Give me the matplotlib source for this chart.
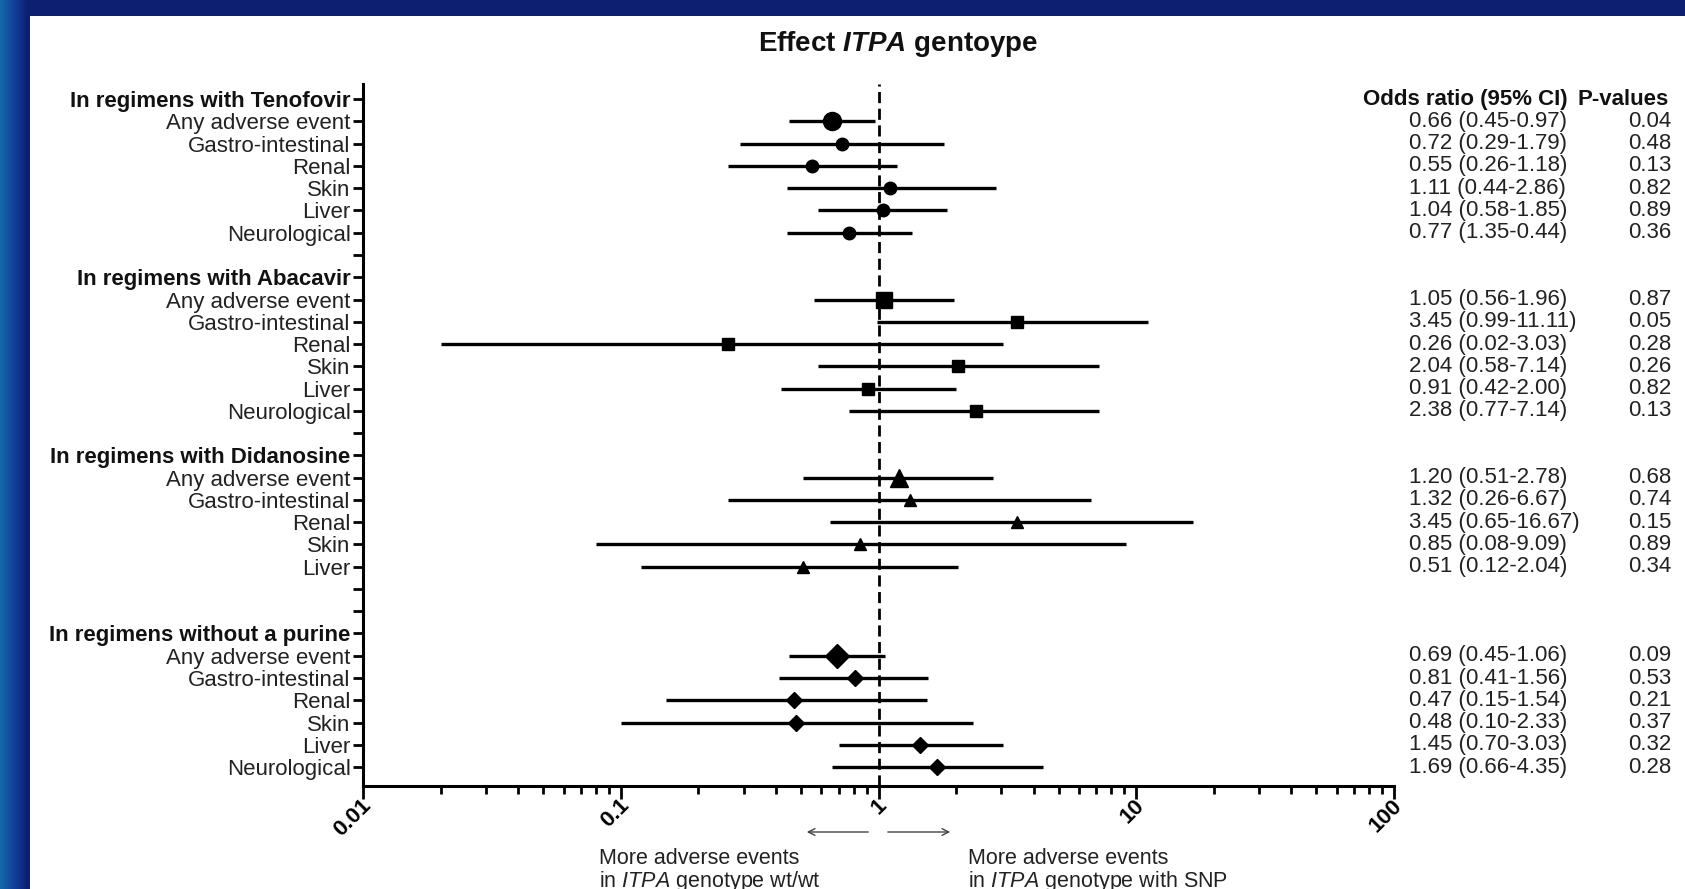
import numpy as np
import matplotlib.pyplot as plt
import matplotlib.transforms as mtransforms
from matplotlib.patches import Rectangle, FancyArrowPatch
from matplotlib.colors import LinearSegmentedColormap

plt.rcParams['font.family'] = ['Liberation Sans', 'DejaVu Sans']
plt.rcParams['mathtext.fontset'] = 'custom'
plt.rcParams['mathtext.rm'] = 'Liberation Sans'
plt.rcParams['mathtext.it'] = 'Liberation Sans:italic'
plt.rcParams['mathtext.bf'] = 'Liberation Sans:bold'
plt.rcParams['mathtext.bfit'] = 'Liberation Sans:bold:italic'

groups = ["In regimens with Tenofovir", "In regimens with Abacavir",
          "In regimens with Didanosine", "In regimens without a purine"]
outcomes = ["Any adverse event", "Gastro-intestinal", "Renal", "Skin", "Liver", "Neurological"]
markers = ["o", "s", "^", "D"]

or_teno = [0.66, 0.72, 0.55, 1.11, 1.04, 0.77]
lo_teno = [0.45, 0.29, 0.26, 0.44, 0.58, 1.35]
hi_teno = [0.97, 1.79, 1.18, 2.86, 1.85, 0.44]
p_teno = ["0.04", "0.48", "0.13", "0.82", "0.89", "0.36"]

or_aba = [1.05, 3.45, 0.26, 2.04, 0.91, 2.38]
lo_aba = [0.56, 0.99, 0.02, 0.58, 0.42, 0.77]
hi_aba = [1.96, 11.11, 3.03, 7.14, 2.00, 7.14]
p_aba = ["0.87", "0.05", "0.28", "0.26", "0.82", "0.13"]

# no neurological row for didanosine
or_ddi = [1.20, 1.32, 3.45, 0.85, 0.51, None]
lo_ddi = [0.51, 0.26, 0.65, 0.08, 0.12, None]
hi_ddi = [2.78, 6.67, 16.67, 9.09, 2.04, None]
p_ddi = ["0.68", "0.74", "0.15", "0.89", "0.34", None]

or_nop = [0.69, 0.81, 0.47, 0.48, 1.45, 1.69]
lo_nop = [0.45, 0.41, 0.15, 0.10, 0.70, 0.66]
hi_nop = [1.06, 1.56, 1.54, 2.33, 3.03, 4.35]
p_nop = ["0.09", "0.53", "0.21", "0.37", "0.32", "0.28"]

all_or = [or_teno, or_aba, or_ddi, or_nop]
all_lo = [lo_teno, lo_aba, lo_ddi, lo_nop]
all_hi = [hi_teno, hi_aba, hi_ddi, hi_nop]
all_p = [p_teno, p_aba, p_ddi, p_nop]

W, H = 1685, 889
fig = plt.figure(figsize=(W / 100, H / 100), dpi=100)
fig.patch.set_facecolor('#0c1f70')

# background: left gradient band + white panel
bg = fig.add_axes([0, 0, 1, 1], zorder=-5)
bg.axis('off')
cm = LinearSegmentedColormap.from_list('band', ['#1868ac', '#12409a', '#0c1f70'])
bg.imshow(np.linspace(0, 1, 60).reshape(1, -1), aspect='auto', cmap=cm, extent=[0, 28, H, 0])
bg.add_patch(Rectangle((30, 16), W - 30, H - 16, facecolor='white', edgecolor='none'))
bg.set_xlim(0, W)
bg.set_ylim(H, 0)

ax = fig.add_axes([363 / W, (H - 786) / H, (1394 - 363) / W, (786 - 84) / H], zorder=2)
ax.set_facecolor('none')

ticks_y = []
labels_y = []
row = 0
for g in range(4):
    ticks_y.append(row)
    labels_y.append(groups[g])
    row += 1
    for k in range(6):
        ticks_y.append(row)
        val = all_or[g][k]
        if val is None:
            labels_y.append("")
        else:
            labels_y.append(outcomes[k])
            lo, hi = all_lo[g][k], all_hi[g][k]
            ax.plot([min(lo, hi), max(lo, hi)], [row, row], color='black', lw=2.4,
                    solid_capstyle='butt', zorder=3)
            if markers[g] == 'D':
                ms = 12 if k == 0 else 8
            elif markers[g] == 's':
                ms = 12 if k == 0 else 9
            else:
                ms = 13 if k == 0 else 9
            ax.plot(val, row, marker=markers[g], ms=ms, color='black', zorder=4, ls='none')
        row += 1
    if g < 3:
        ticks_y.append(row)
        labels_y.append("")
        row += 1

ax.set_xscale('log')
ax.set_xlim(0.01, 100)
ax.set_ylim(30.85, -0.68)

ax.set_yticks(ticks_y)
ax.set_yticklabels(labels_y)
for lab in ax.get_yticklabels():
    if lab.get_text() in groups:
        lab.set_fontweight('bold')
        lab.set_color('#111111')
    else:
        lab.set_color('#222222')
ax.tick_params(axis='y', length=7, width=2, labelsize=16, pad=2, direction='out')

ax.set_xticks([0.01, 0.1, 1, 10, 100])
ax.set_xticklabels(["0.01", "0.1", "1", "10", "100"], rotation=45, ha='right', va='center',
                   rotation_mode='anchor', fontweight='bold', fontsize=16)
ax.tick_params(axis='x', which='major', length=9, width=2, pad=3)
ax.tick_params(axis='x', which='minor', length=6, width=2)
shift = mtransforms.ScaledTranslation(5 / 100, 0, fig.dpi_scale_trans)
for lab in ax.get_xticklabels():
    lab.set_transform(lab.get_transform() + shift)

for s in ['top', 'right']:
    ax.spines[s].set_visible(False)
for s in ['left', 'bottom']:
    ax.spines[s].set_linewidth(2.2)

ax.axvline(1, color='black', lw=2, ls=(0, (4, 2)), zorder=2)

# table on the right, placed by row in data y coordinates
tr = ax.get_yaxis_transform()


def fx(px):
    return (px - 363) / (1394 - 363)


ax.text(fx(1363), 0, "Odds ratio (95% CI)", transform=tr, fontsize=16, fontweight='bold',
        va='center', ha='left', clip_on=False, color='#111111')
ax.text(fx(1577), 0, "P-values", transform=tr, fontsize=16, fontweight='bold',
        va='center', ha='left', clip_on=False, color='#111111')
row = 0
for g in range(4):
    row += 1
    for k in range(6):
        val = all_or[g][k]
        if val is not None:
            lo, hi = all_lo[g][k], all_hi[g][k]
            ax.text(fx(1409), row, f"{val:.2f} ({lo:.2f}-{hi:.2f})", transform=tr, fontsize=16,
                    va='center', ha='left', clip_on=False, color='#222222')
            ax.text(fx(1671), row, all_p[g][k], transform=tr, fontsize=16,
                    va='center', ha='right', clip_on=False, color='#222222')
        row += 1
    row += 1

fig.text(898 / W, 1 - 44 / H, "Effect $\\mathbfit{ITPA}$ gentoype", ha='center', va='center',
         fontsize=20, fontweight='bold', color='#111111')

# arrows under the axis
fig.patches.append(FancyArrowPatch((871 / W, 1 - 832 / H), (804 / W, 1 - 832 / H),
                   transform=fig.transFigure, arrowstyle='->', mutation_scale=12, color='#444444', lw=1))
fig.patches.append(FancyArrowPatch((885 / W, 1 - 832 / H), (953 / W, 1 - 832 / H),
                   transform=fig.transFigure, arrowstyle='->', mutation_scale=12, color='#444444', lw=1))

fig.text(599 / W, 1 - 859 / H, "More adverse events", fontsize=15.5, va='center', ha='left', color='#222222')
fig.text(599 / W, 1 - 881 / H, "in $\\mathit{ITPA}$ genotype wt/wt", fontsize=15.5, va='center', ha='left',
         color='#222222')
fig.text(968 / W, 1 - 859 / H, "More adverse events", fontsize=15.5, va='center', ha='left', color='#222222')
fig.text(968 / W, 1 - 881 / H, "in $\\mathit{ITPA}$ genotype with SNP", fontsize=15.5, va='center', ha='left',
         color='#222222')

fig.savefig('out.png', dpi=100, facecolor=fig.get_facecolor())
